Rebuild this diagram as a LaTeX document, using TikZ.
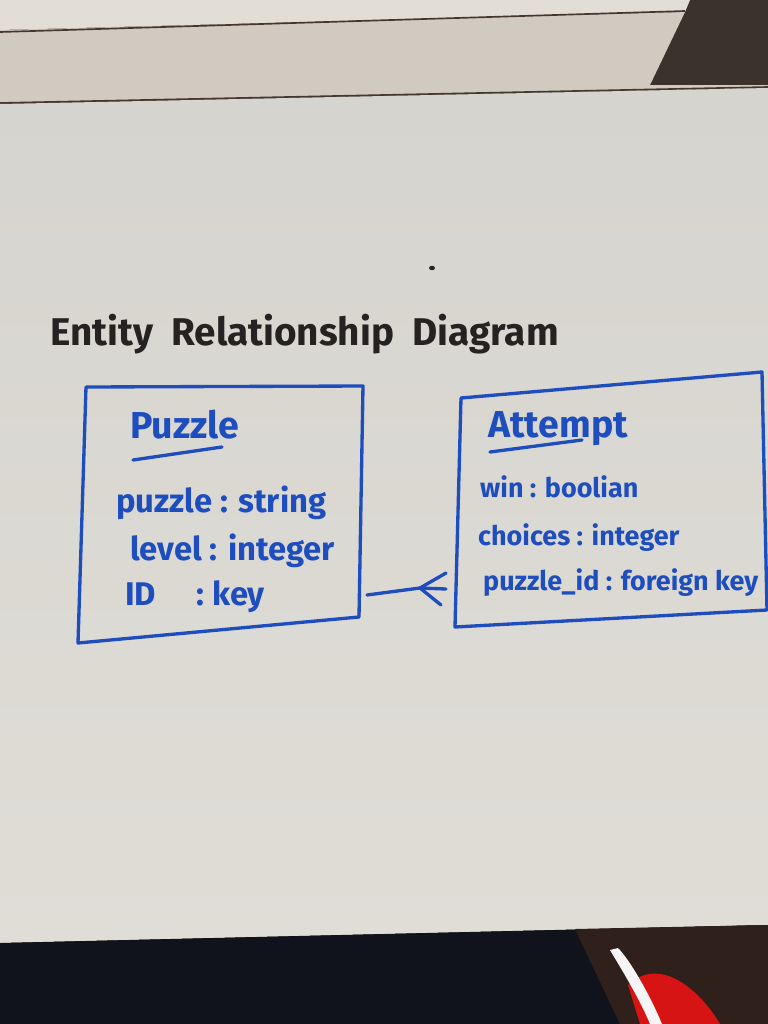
\documentclass[tikz,border=0pt]{standalone}
\usepackage{fontspec}
\setmainfont{Fira Sans}
\definecolor{inkblue}{RGB}{30,78,190}
\definecolor{inkblack}{RGB}{38,34,34}
\definecolor{board}{RGB}{224,221,215}
\definecolor{boardtop}{RGB}{214,212,206}
\definecolor{ledge}{RGB}{208,202,193}
\definecolor{ledgetop}{RGB}{226,222,214}
\definecolor{crack}{RGB}{70,55,45}
\definecolor{shadowcorner}{RGB}{60,50,45}
\definecolor{floornavy}{RGB}{16,19,28}
\definecolor{floorbrown}{RGB}{48,32,27}
\definecolor{cloth}{RGB}{215,20,20}
\begin{document}
\begin{tikzpicture}[x=0.03cm,y=-0.03cm,
  marker/.style={draw=inkblue,line width=0.1cm,line cap=round,line join=round},
  heading/.style={inner sep=0pt,anchor=base west,text=inkblack,font=\fontsize{33}{38}\selectfont\bfseries},
  entityname/.style={inner sep=0pt,anchor=base west,text=inkblue,font=\fontsize{32}{38}\selectfont\bfseries},
  puzattr/.style={inner sep=0pt,anchor=base west,text=inkblue,font=\fontsize{28}{33}\selectfont\bfseries},
  attattr/.style={inner sep=0pt,anchor=base west,text=inkblue,font=\fontsize{23}{27}\selectfont\bfseries}]
\useasboundingbox (0,0) rectangle (768,1024);

% wall, ledge and board
\fill[shadowcorner] (0,0) rectangle (768,1024);
\fill[ledgetop] (0,0) -- (690,0) -- (685,12) -- (0,30) -- cycle;
\fill[ledge] (0,30) -- (685,12) -- (650,85) -- (768,85) -- (768,88) -- (0,103) -- cycle;
\draw[crack,line width=0.05cm] (0,32) -- (685,11);
\draw[crack,line width=0.05cm] (0,103) -- (768,87);
\shade[top color=boardtop,bottom color=board] (0,104) -- (768,88) -- (768,925) -- (0,943) -- cycle;

% floor below the board
\fill[floornavy] (0,943) -- (768,925) -- (768,1024) -- (0,1024) -- cycle;
\fill[floorbrown] (575,929) -- (768,925) -- (768,1024) -- (620,1024) -- cycle;
\fill[cloth] (628,985) .. controls (660,955) and (700,990) .. (720,1024) -- (640,1024) -- cycle;
\fill[white!92!gray] (610,950) .. controls (625,975) and (640,1000) .. (650,1024) -- (662,1024) .. controls (650,995) and (630,960) .. (618,948) -- cycle;
\fill[inkblack] (432,268) ellipse (3 and 2.2);

% title
\node[heading] (title) at (50,345) {Entity\ \ Relationship\ \ Diagram};

% Puzzle entity
\coordinate (pz-nw) at (86,387);
\coordinate (pz-ne) at (363,386);
\coordinate (pz-se) at (359,617);
\coordinate (pz-sw) at (78,643);
\draw[marker] (pz-nw) -- (pz-ne) -- (pz-se) -- (pz-sw) -- cycle;
\node[entityname] (pz-name) at (130,438) {Puzzle};
\coordinate (pz-ul-a) at (133,460);
\coordinate (pz-ul-b) at (222,447);
\draw[marker] (pz-ul-a) -- (pz-ul-b);
\node[puzattr] (pz-a1) at (116,512) {puzzle : string};
\node[puzattr] (pz-a2) at (130,560) {level : integer};
\node[puzattr] (pz-a3) at (125,605) {ID\quad\ : key};

% Attempt entity
\coordinate (at-nw) at (461,398);
\coordinate (at-ne) at (762,372);
\coordinate (at-se) at (767,610);
\coordinate (at-sw) at (455,627);
\draw[marker] (at-nw) -- (at-ne) -- (at-se) -- (at-sw) -- cycle;
\node[entityname] (at-name) at (488,437) {Attempt};
\coordinate (at-ul-a) at (490,452);
\coordinate (at-ul-b) at (582,440);
\draw[marker] (at-ul-a) -- (at-ul-b);
\node[attattr] (at-a1) at (480,497) {win : boolian};
\node[attattr] (at-a2) at (478,545) {choices : integer};
\node[attattr] (at-a3) at (483,590) {puzzle\_id : foreign key};

% one-to-many link with crow's foot on the Attempt side
\coordinate (pz-link) at (367,595);
\coordinate (fork) at (420,588);
\coordinate (at-link) at (446,589);
\coordinate (prong-up) at (446,573);
\coordinate (prong-down) at (441,605);
\draw[marker] (pz-link) -- (fork);
\draw[marker] (fork) -- (prong-up);
\draw[marker] (fork) -- (at-link);
\draw[marker] (fork) -- (prong-down);
\end{tikzpicture}
\end{document}
